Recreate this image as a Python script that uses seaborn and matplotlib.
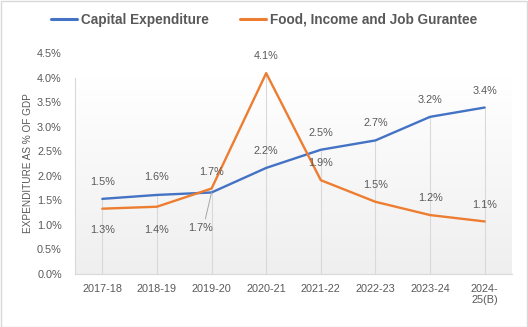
import numpy as np
import pandas as pd
import matplotlib
matplotlib.use("Agg")
import matplotlib.pyplot as plt
import seaborn as sns
from matplotlib.colors import LinearSegmentedColormap
from matplotlib.patches import Rectangle

# Expenditure as % of GDP by fiscal year
years = ["2017-18", "2018-19", "2019-20", "2020-21", "2021-22",
         "2022-23", "2023-24", "2024-25(B)"]
year_ticks = ["2017-18", "2018-19", "2019-20", "2020-21", "2021-22",
              "2022-23", "2023-24", "2024-\n25(B)"]
capital_exp = [1.53, 1.61, 1.66, 2.16, 2.53, 2.72, 3.20, 3.39]
food_income_job = [1.33, 1.37, 1.74, 4.09, 1.91, 1.47, 1.20, 1.07]
series_names = ["Capital Expenditure", "Food, Income and Job Gurantee"]
y_ticks = [0.0, 0.5, 1.0, 1.5, 2.0, 2.5, 3.0, 3.5, 4.0, 4.5]

BLUE = "#4472C4"
ORANGE = "#ED7D31"
TEXT = "#595959"
GRID = "#d9d9d9"

sns.set_style("white")
plt.rcParams["font.family"] = ["Liberation Sans", "DejaVu Sans"]

df = pd.DataFrame({
    "Year": years * 2,
    "Share": capital_exp + food_income_job,
    "Series": [series_names[0]] * len(years) + [series_names[1]] * len(years),
})

fig = plt.figure(figsize=(5.28, 3.27), dpi=100)
ax = fig.add_axes([75 / 528, 1 - 274 / 327, 437 / 528, 221 / 327])

# soft vertical gradient behind the plot area
grad = np.linspace(0, 1, 256).reshape(-1, 1)
cmap = LinearSegmentedColormap.from_list("bg", ["#ffffff", "#efefef"])
ax.imshow(grad, extent=(-0.5, len(years) - 0.5, 0, 4.0), aspect="auto",
          cmap=cmap, zorder=0, interpolation="bilinear")

# drop lines from the higher of the two series to the axis
xs = np.arange(len(years))
ax.vlines(xs, 0, np.maximum(capital_exp, food_income_job),
          color=GRID, lw=0.8, zorder=1)

sns.lineplot(data=df, x="Year", y="Share", hue="Series", hue_order=series_names,
             palette=[BLUE, ORANGE], linewidth=1.7, sort=False, ax=ax, zorder=3)

ax.set_xlim(-0.5, len(years) - 0.5)
ax.set_ylim(0, 4.5)
ax.set_yticks(y_ticks)
ax.set_yticklabels([f"{v:.1f}%" for v in y_ticks])
ax.set_xticks(xs)
ax.set_xticklabels(year_ticks)
ax.tick_params(axis="both", length=0, labelsize=7.8, colors=TEXT)
ax.tick_params(axis="y", pad=9.5)
ax.tick_params(axis="x", pad=7)
ax.set_xlabel("")
ax.set_ylabel("EXPENDITURE AS % OF GDP", fontsize=7.2, color=TEXT, labelpad=3)

for side in ["top", "right"]:
    ax.spines[side].set_visible(False)
ax.spines["bottom"].set_color(GRID)
ax.spines["left"].set_color(GRID)
ax.spines["left"].set_bounds(0, 4.0)
ax.patch.set_alpha(0)

# value labels (offsets in pixels)
cap_offsets = [(0, 17), (0, 18), None, (0, 17), (0, 17), (0, 17), (0, 17), (0, 17)]
food_offsets = [(0, -21), (0, -23), (0, 17), (0, 17), (0, 17), (0, 17), (0, 17), (0, 16)]
lab_kw = dict(textcoords="offset pixels", ha="center", va="center",
              fontsize=7.8, color=TEXT, zorder=5)
for i, v in enumerate(capital_exp):
    if cap_offsets[i] is None:
        ax.annotate(f"{v:.1f}%", (i, v), xytext=(-11, -36),
                    arrowprops=dict(arrowstyle="-", color="#a6a6a6", lw=0.7,
                                    shrinkA=1, shrinkB=0, relpos=(0.65, 1.0)),
                    **lab_kw)
    else:
        ax.annotate(f"{v:.1f}%", (i, v), xytext=cap_offsets[i], **lab_kw)
for i, v in enumerate(food_income_job):
    ax.annotate(f"{v:.1f}%", (i, v), xytext=food_offsets[i], **lab_kw)

sns.move_legend(ax, loc="center", bbox_to_anchor=(0.5, 1 - 20 / 327),
                bbox_transform=fig.transFigure, ncol=2, frameon=False, title=None,
                handlelength=1.9, handletextpad=0.3, columnspacing=2.3,
                prop=dict(weight="bold", size=9.8), labelcolor=TEXT)
for line in ax.get_legend().get_lines():
    line.set_linewidth(2.2)

# chart border
fig.patches.append(Rectangle((0.5 / 528, 0.5 / 327), 526.5 / 528, 325.5 / 327,
                             transform=fig.transFigure, fill=False,
                             edgecolor=GRID, lw=1.0))

fig.savefig("out.png", dpi=100)
